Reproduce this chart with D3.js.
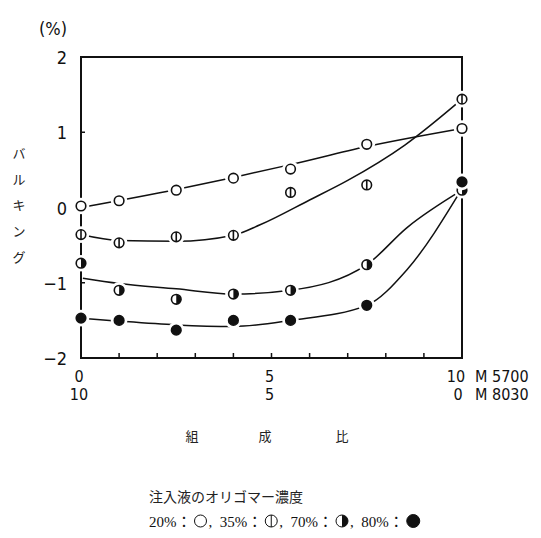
<!DOCTYPE html>
<html>
<head>
<meta charset="utf-8">
<script src="https://cdn.jsdelivr.net/npm/d3@7"></script>
<style>
  body { margin: 0; background: #fff; }
  svg { display: block; }
  .num { font-family: "Liberation Sans Narrow", "DejaVu Sans Condensed", "Liberation Sans", sans-serif; font-size: 18px; fill: #111; }
  .xnum { font-size: 16px; }
  .jp { font-family: "Noto Sans CJK JP", sans-serif; font-size: 13px; fill: #222; }
  .leg { font-family: "Liberation Serif", "Noto Sans CJK JP", serif; font-size: 15px; fill: #111; }
</style>
</head>
<body>
<div id="chart"></div>
<script>
// composition ratio (M5700 parts, M8030 = 10 - x)
const ratios = [0, 1, 2.5, 4, 5.5, 7.5, 10];

// measured bulking (%) per oligomer concentration
const pts20 = [0.02, 0.09, 0.23, 0.39, 0.51, 0.84, 1.05];
const pts35 = [-0.36, -0.47, -0.39, -0.37, 0.20, 0.30, 1.44];
const pts70 = [-0.74, -1.10, -1.22, -1.15, -1.10, -0.76, 0.23];
const pts80 = [-1.47, -1.50, -1.63, -1.50, -1.50, -1.30, 0.34];

// hand-drawn fitted curves: [x, y]
const curve20 = [[0, 0.0], [2.5, 0.24], [4, 0.4], [5.5, 0.57], [7.5, 0.81], [10, 1.05]];
const curve35 = [[0, -0.36], [1, -0.44], [2.5, -0.45], [4, -0.37], [4.7, -0.23], [6, 0.1], [7, 0.36], [8.5, 0.83], [10, 1.44]];
const curve70 = [[0.05, -0.94], [1, -1.01], [2.5, -1.08], [4, -1.15], [5.5, -1.1], [7.5, -0.76], [8.55, -0.27], [10, 0.23]];
const curve80 = [[0, -1.47], [1, -1.51], [2.5, -1.56], [4, -1.58], [5.5, -1.5], [7.5, -1.3], [8.55, -0.83], [10, 0.25]];

const yTicks = [2, 1, 0, -1, -2];
const xTopLabels = [[0, "0"], [5, "5"], [10, "10"]];
const xBottomLabels = [[0, "10"], [5, "5"], [10, "0"]];
const yTitle = ["バ", "ル", "キ", "ン", "グ"];
const xTitle = ["組", "成", "比"];
const legendTitle = "注入液のオリゴマー濃度";
const legendItems = [["20%：", "open"], ["35%：", "bar"], ["70%：", "half"], ["80%：", "filled"]];

const width = 541;
const height = 538;
const margin = { top: 57, right: 79, bottom: 180, left: 81 };
const plotW = width - margin.left - margin.right;
const plotH = height - margin.top - margin.bottom;

const svg = d3.select('#chart')
  .append('svg')
  .attr('width', width)
  .attr('height', height);

const xScale = d3.scaleLinear().domain([0, 10]).range([margin.left, margin.left + plotW]);
const yScale = d3.scaleLinear().domain([-2, 2]).range([margin.top + plotH, margin.top]);

// frame
svg.append('rect')
  .attr('x', xScale(0)).attr('y', yScale(2))
  .attr('width', xScale(10) - xScale(0))
  .attr('height', yScale(-2) - yScale(2))
  .attr('fill', 'none').attr('stroke', '#111').attr('stroke-width', 2);

// inward ticks
const ticks = svg.append('g').attr('stroke', '#111').attr('stroke-width', 1.5);
d3.range(1, 10).forEach((v) => {
  ticks.append('line')
    .attr('x1', xScale(v)).attr('x2', xScale(v))
    .attr('y1', yScale(-2)).attr('y2', yScale(-2) - 5);
});
[-1, 0, 1].forEach((v) => {
  ticks.append('line')
    .attr('x1', xScale(0)).attr('x2', xScale(0) + 4)
    .attr('y1', yScale(v)).attr('y2', yScale(v));
});

// y tick labels
svg.append('g').selectAll('text')
  .data(yTicks)
  .join('text')
  .attr('class', 'num')
  .attr('x', 67)
  .attr('y', (d) => yScale(d) + 7)
  .attr('text-anchor', 'end')
  .text((d) => (d < 0 ? '\u2212' + Math.abs(d) : d));

svg.append('text').attr('class', 'num')
  .attr('x', 53).attr('y', 35).attr('text-anchor', 'middle')
  .text('(%)');

// y title, stacked vertically
svg.append('g').selectAll('text')
  .data(yTitle)
  .join('text')
  .attr('class', 'jp')
  .attr('x', 19)
  .attr('y', (d, i) => 158 + i * 26)
  .attr('text-anchor', 'middle')
  .text((d) => d);

// x tick labels, two rows
svg.append('g').selectAll('text')
  .data(xTopLabels)
  .join('text')
  .attr('class', 'num xnum')
  .attr('x', (d) => xScale(d[0]) - (d[0] === 10 ? 6 : 2))
  .attr('y', 382)
  .attr('text-anchor', 'middle')
  .text((d) => d[1]);
svg.append('g').selectAll('text')
  .data(xBottomLabels)
  .join('text')
  .attr('class', 'num xnum')
  .attr('x', (d) => xScale(d[0]) - (d[0] === 10 ? 4 : 2))
  .attr('y', 400)
  .attr('text-anchor', 'middle')
  .text((d) => d[1]);
svg.append('text').attr('class', 'num xnum').attr('x', 475).attr('y', 382).text('M 5700');
svg.append('text').attr('class', 'num xnum').attr('x', 475).attr('y', 400).text('M 8030');

// x title
svg.append('g').selectAll('text')
  .data(xTitle)
  .join('text')
  .attr('class', 'jp')
  .attr('x', (d, i) => [192, 265, 342][i])
  .attr('y', 441)
  .attr('text-anchor', 'middle')
  .text((d) => d);

// fitted curves
const line = d3.line()
  .x((d) => xScale(d[0]))
  .y((d) => yScale(d[1]))
  .curve(d3.curveMonotoneX);

svg.append('g')
  .selectAll('path')
  .data([curve20, curve35, curve70, curve80])
  .join('path')
  .attr('d', line)
  .attr('fill', 'none')
  .attr('stroke', '#111')
  .attr('stroke-width', 1.5);

// markers
function drawMarker(g, type, cx, cy, r) {
  g.append('circle').attr('cx', cx).attr('cy', cy).attr('r', r + 3.5).attr('fill', '#fff');
  g.append('circle').attr('cx', cx).attr('cy', cy).attr('r', r)
    .attr('fill', type === 'filled' ? '#111' : '#fff')
    .attr('stroke', '#111').attr('stroke-width', 1.6);
  if (type === 'bar') {
    g.append('line')
      .attr('x1', cx).attr('x2', cx).attr('y1', cy - r).attr('y2', cy + r)
      .attr('stroke', '#111').attr('stroke-width', 1.6);
  }
  if (type === 'half') {
    g.append('path')
      .attr('d', `M${cx},${cy - r} A${r},${r} 0 0 1 ${cx},${cy + r} Z`)
      .attr('fill', '#111');
  }
}

const series = [[pts20, 'open'], [pts35, 'bar'], [pts70, 'half'], [pts80, 'filled']];
const markers = svg.append('g');
series.forEach(([vals, type]) => {
  vals.forEach((v, i) => {
    drawMarker(markers, type, xScale(ratios[i]), yScale(v), 4.8);
  });
});

// legend
svg.append('text').attr('class', 'jp')
  .style('font-size', '14px')
  .attr('x', 149).attr('y', 502)
  .text(legendTitle);

const leg = svg.append('g');
let lx = 149;
legendItems.forEach(([label, type], i) => {
  const t = leg.append('text').attr('class', 'leg')
    .attr('x', lx).attr('y', 527)
    .text((i > 0 ? ',\u00a0\u00a0' : '') + label);
  lx += t.node().getComputedTextLength() + 3;
  const r = type === 'filled' ? 6.5 : 6;
  const g = leg.append('g');
  g.append('circle').attr('cx', lx + r).attr('cy', 521).attr('r', r)
    .attr('fill', type === 'filled' ? '#111' : '#fff')
    .attr('stroke', '#111').attr('stroke-width', 1);
  if (type === 'bar') {
    g.append('line').attr('x1', lx + r).attr('x2', lx + r)
      .attr('y1', 521 - r).attr('y2', 521 + r)
      .attr('stroke', '#111').attr('stroke-width', 1);
  }
  if (type === 'half') {
    g.append('path')
      .attr('d', `M${lx + r},${521 - r} A${r},${r} 0 0 1 ${lx + r},${521 + r} Z`)
      .attr('fill', '#111');
  }
  lx += 2 * r + 2;
});
</script>
</body>
</html>
